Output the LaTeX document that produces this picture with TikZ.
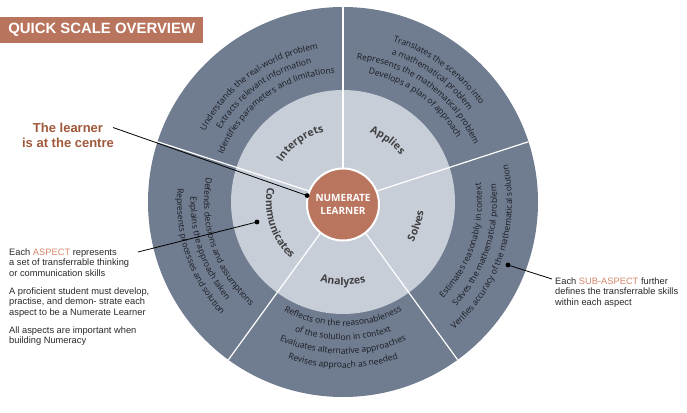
\documentclass[tikz,border=0pt]{standalone}
\usepackage{fontspec}
\setmainfont{Liberation Sans}
\newfontfamily\ringf{Open Sans}
\usetikzlibrary{decorations.text}
\definecolor{outerc}{RGB}{112,124,143}
\definecolor{midc}{RGB}{200,206,216}
\definecolor{centc}{RGB}{186,117,94}
\definecolor{titlec}{RGB}{185,116,94}
\definecolor{brownt}{RGB}{160,88,58}
\definecolor{aspectc}{RGB}{214,134,104}
\definecolor{bodyt}{RGB}{40,40,40}
\definecolor{ringt}{RGB}{25,28,35}
\definecolor{labt}{RGB}{64,64,66}
\newcommand\ringfont{\ringf\fontsize{8.5}{10}\selectfont\color{ringt}}
\newcommand\labfont{\ringf\bfseries\fontsize{10.5}{12}\selectfont\color{labt}}
\newcommand\arctop[4]{\path[decorate,decoration={text along path,text align=center,text={|#3|#4}}] ({#1+70}:#2pt) arc[start angle={#1+70},end angle={#1-70},radius=#2pt];}
\newcommand\arcbot[4]{\path[decorate,decoration={text along path,text align=center,text={|#3|#4}}] ({#1-70}:#2pt) arc[start angle={#1-70},end angle={#1+70},radius=#2pt];}
\tikzset{
  body/.style={font=\fontsize{9.3}{10.4}\selectfont, text=bodyt, align=left, inner sep=0pt, anchor=north west},
  leader/.style={draw=black, line width=0.8pt},
  divider/.style={draw=white, line width=1.2pt},
}
\begin{document}
\begin{tikzpicture}[x=1pt,y=1pt]
\useasboundingbox (0,0) rectangle (687,-412);
% title
\node[fill=titlec, anchor=north west, minimum width=203pt, minimum height=26pt, inner sep=0pt,
  text=white, font=\bfseries\fontsize{14.9}{16}\selectfont] (title) at (0,-17) {QUICK SCALE OVERVIEW};
% wheel
\coordinate (C) at (343,-202);
\fill[outerc] (C) circle[radius=195pt];
\fill[midc] (C) circle[radius=112pt];
\foreach \a in {90,18,-54,-126,162} \draw[divider] (C) -- ++(\a:195pt);
\begin{scope}[shift={(C)}]
  % Interprets
  \arctop{126}{155}{\ringfont}{Understands the real-world problem}
  \arctop{126}{142}{\ringfont}{Extracts relevant information}
  \arctop{126}{129}{\ringfont}{Identifies parameters and limitations}
  % Applies
  \arctop{54}{168}{\ringfont}{Translates the scenario into}
  \arctop{54}{155.5}{\ringfont}{a mathematical problem}
  \arctop{54}{143}{\ringfont}{Represents the mathematical problem}
  \arctop{54}{130.5}{\ringfont}{Develops a plan of approach}
  % Solves
  \arcbot{-18}{139}{\ringfont}{Estimates reasonably in context}
  \arcbot{-18}{154}{\ringfont}{Solves the mathematical problem}
  \arcbot{-18}{169}{\ringfont}{Verifies accuracy of the mathematical solution}
  % Analyzes
  \arcbot{-90}{124}{\ringfont}{Reflects on the reasonableness}
  \arcbot{-90}{138}{\ringfont}{of the solution in context}
  \arcbot{-90}{152}{\ringfont}{Evaluates alternative approaches}
  \arcbot{-90}{166}{\ringfont}{Revises approach as needed}
  % Communicates
  \arcbot{199}{139}{\ringfont}{Defends decisions and assumptions}
  \arcbot{199}{152.5}{\ringfont}{Explains the approach taken}
  \arcbot{199}{166}{\ringfont}{Represents processes and solution}
  % aspect labels
  \arctop{126}{73}{\labfont}{Interprets}
  \arctop{54}{74}{\labfont}{Applies}
  \arcbot{-18}{81}{\labfont}{Solves}
  \arcbot{-90}{83}{\labfont}{Analyzes}
  \arcbot{198}{77}{\labfont}{Communicates}
\end{scope}
\node[circle, fill=centc, draw=white, line width=2pt, minimum size=72pt, inner sep=0pt,
  text=white, align=center, font=\ringf\bfseries\fontsize{10}{13.5}\selectfont] (learner) at (343,-204.5) {NUMERATE\\LEARNER};
% left callouts
\node[font=\bfseries\fontsize{13}{15}\selectfont, text=brownt, align=center] (lt) at (68,-135) {The learner\\is at the centre};
\coordinate (lstart) at (113,-127.5);
\draw[leader] (lstart) -- (learner.166);
\fill (learner.166) circle[radius=2.4pt];
\node[body] (p1) at (9,-248.5) {Each \textcolor{aspectc}{ASPECT} represents\\a set of transferrable thinking\\or communication skills};
\node[body] (p2) at (9,-287.5) {A proficient student must develop,\\practise, and demon- strate each\\aspect to be a Numerate Learner};
\node[body] (p3) at (9,-326.5) {All aspects are important when\\building Numeracy};
\coordinate (astart) at (138,-252);
\coordinate (adot) at (257,-222);
\draw[leader] (astart) -- (adot);
\fill (adot) circle[radius=2.4pt];
% right callout
\node[body] (p4) at (555,-277.5) {Each \textcolor{aspectc}{SUB-ASPECT} further\\defines the transferrable skills\\within each aspect};
\coordinate (sstart) at (552,-279);
\coordinate (sdot) at (508,-265);
\draw[leader] (sstart) -- (sdot);
\fill (sdot) circle[radius=2.4pt];
\end{tikzpicture}
\end{document}
